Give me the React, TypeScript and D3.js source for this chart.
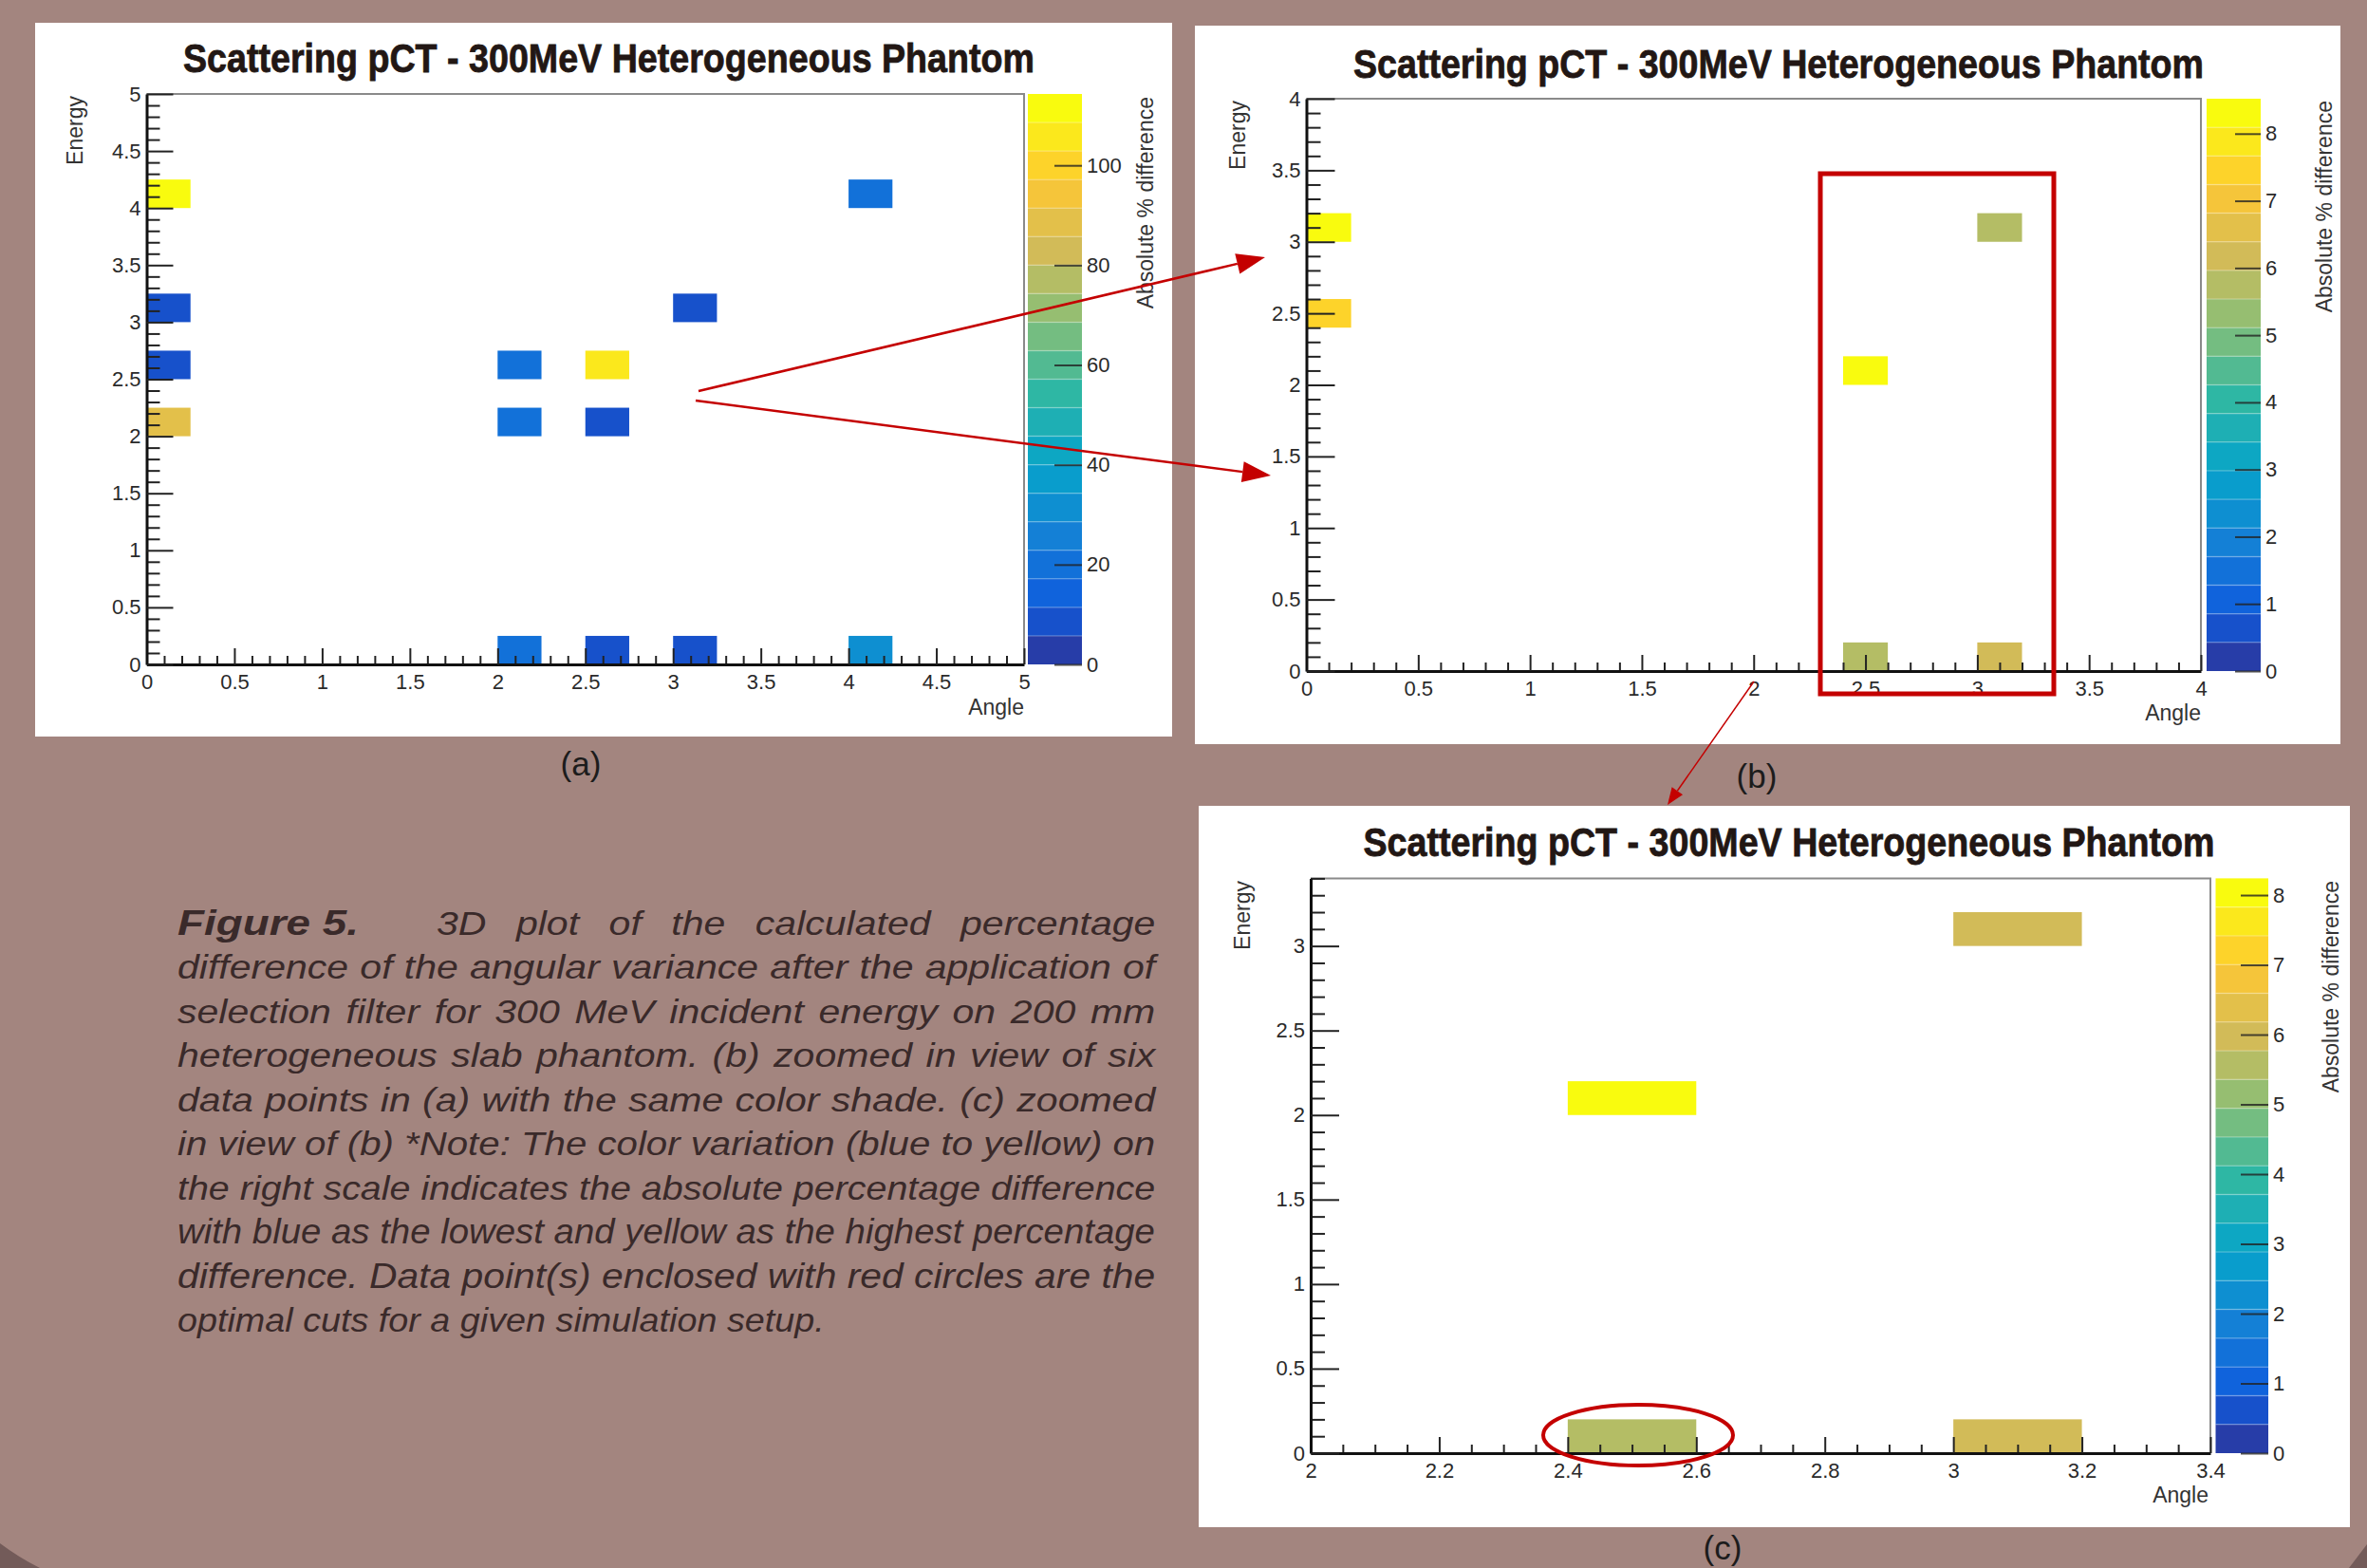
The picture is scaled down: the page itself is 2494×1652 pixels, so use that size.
import { useEffect, useRef } from 'react';
import * as d3 from 'd3';

// --- chart text ---
const titleText = 'Scattering pCT - 300MeV Heterogeneous Phantom';
const xTitle = 'Angle';
const yTitle = 'Energy';
const zTitle = 'Absolute % difference';

// --- panel (a): full range ---
const angleA = [0, 0, 0, 0, 2.0, 2.5, 2.0, 2.5, 3.0, 4.0, 2.0, 2.5, 3.0, 4.0];
const energyA = [4.0, 3.0, 2.5, 2.0, 2.5, 2.5, 2.0, 2.0, 3.0, 4.0, 0, 0, 0, 0];
const diffA = [114.3, 8, 8, 88, 20, 106, 20, 8, 8, 20, 20, 8, 8, 31];

// --- panel (b): zoom on the six lowest points ---
const angleB = [0, 0, 2.4, 3.0, 2.4, 3.0];
const energyB = [3.0, 2.4, 2.0, 3.0, 0, 0];
const diffB = [8.52, 7.5, 8.24, 5.85, 5.6, 6.05];

// --- panel (c): zoom of (b) ---
const angleC = [2.4, 3.0, 2.4, 3.0];
const energyC = [2.0, 3.0, 0, 0];
const diffC = [8.24, 5.85, 5.6, 6.05];

const captionHead = 'Figure 5.';
const captionLines = [
  '3D plot of the calculated percentage',
  'difference of the angular variance after the application of',
  'selection filter for 300 MeV incident energy on 200 mm',
  'heterogeneous slab phantom. (b) zoomed in view of six',
  'data points in (a) with the same color shade. (c) zoomed',
  'in view of (b) *Note: The color variation (blue to yellow) on',
  'the right scale indicates the absolute percentage difference',
  'with blue as the lowest and yellow as the highest percentage',
  'difference. Data point(s) enclosed with red circles are the',
  'optimal cuts for a given simulation setup.',
];

// ROOT kBird palette
const birdStops = [0.0, 0.125, 0.25, 0.375, 0.5, 0.625, 0.75, 0.875, 1.0];
const birdRed = [0.2082, 0.0592, 0.078, 0.0232, 0.1802, 0.5301, 0.8186, 0.9956, 0.9764];
const birdGreen = [0.1664, 0.3599, 0.5041, 0.6419, 0.7178, 0.7492, 0.7328, 0.7862, 0.9832];
const birdBlue = [0.5293, 0.8684, 0.8385, 0.7914, 0.6425, 0.4662, 0.3499, 0.1968, 0.0539];

const bird = d3.scaleLinear<string>()
  .domain(birdStops)
  .range(birdStops.map((_, i) => d3.rgb(birdRed[i] * 255, birdGreen[i] * 255, birdBlue[i] * 255).formatHex()))
  .interpolate(d3.interpolateRgb);

const nBands = 20;
const bandColor = (i: number) => bird(Math.floor((i + 0.99) * 255 / nBands) / 254);

const BG = '#a3857f';
const RED = '#c40000';
const FONT = "'Liberation Sans', Arial, sans-serif";
const NARROW = "'Liberation Sans Narrow', 'Liberation Sans', sans-serif";

const panels = [
  {
    angle: angleA, energy: energyA, diff: diffA, bin: 0.25,
    box: [37, 24, 1235, 776], frame: [154.5, 99, 1079, 700], bar: [1083, 1140],
    xDomain: [0, 5], yDomain: [0, 5], xMajor: 0.5, xMinor: 0.1, yMajor: 0.5, yMinor: 0.1,
    yTick: 28, barTick: 29, zTicks: 6,
    title: [641.5, 76, 897], eLab: [87, 101], aLab: [1079, 753], zLab: [1215, 102],
    label: ['(a)', 612, 817],
  },
  {
    angle: angleB, energy: energyB, diff: diffB, bin: 0.2,
    box: [1259, 27, 2466, 784], frame: [1376.5, 104, 2319, 707], bar: [2325, 2382],
    xDomain: [0, 4], yDomain: [0, 4], xMajor: 0.5, xMinor: 0.1, yMajor: 0.5, yMinor: 0.1,
    yTick: 30, barTick: 27, zTicks: 8,
    title: [1874, 82, 896], eLab: [1312, 106], aLab: [2319, 759], zLab: [2457, 106],
    label: ['(b)', 1851, 830],
  },
  {
    angle: angleC, energy: energyC, diff: diffC, bin: 0.2,
    box: [1263, 849, 2476, 1609], frame: [1381, 925.4, 2329, 1531], bar: [2334.5, 2390],
    xDomain: [2, 3.4], yDomain: [0, 3.4], xMajor: 0.2, xMinor: 0.05, yMajor: 0.5, yMinor: 0.1,
    yTick: 30, barTick: 29, zTicks: 8,
    title: [1885, 902, 897], eLab: [1317, 928], aLab: [2327, 1583], zLab: [2464, 928],
    label: ['(c)', 1815, 1643],
  },
];

const steps = (lo: number, hi: number, step: number) =>
  d3.range(Math.round(lo / step), Math.floor(hi / step + 1e-6) + 1).map(k => +(k * step).toFixed(4));

export default function App() {
  const ref = useRef<SVGSVGElement>(null);

  useEffect(() => {
    document.body.style.margin = '0';
    const svg = d3.select(ref.current);
    svg.selectAll('*').remove();

    svg.append('rect').attr('width', 2494).attr('height', 1652).attr('fill', BG);
    svg.append('path').attr('d', 'M0,1626 Q20,1641 42,1652 L0,1652 Z').attr('fill', '#735b59');
    svg.append('path').attr('d', 'M2475,1652 L2494,1627 L2494,1652 Z').attr('fill', '#735b59');

    panels.forEach(p => {
      const [bx0, by0, bx1, by1] = p.box;
      const [fx0, fy0, fx1, fy1] = p.frame;
      const g = svg.append('g');

      g.append('rect').attr('x', bx0).attr('y', by0).attr('width', bx1 - bx0).attr('height', by1 - by0).attr('fill', '#fff');

      const x = d3.scaleLinear().domain(p.xDomain).range([fx0, fx1]);
      const y = d3.scaleLinear().domain(p.yDomain).range([fy1, fy0]);
      const zMax = d3.max(p.diff) as number;
      const z = d3.scaleLinear().domain([0, zMax]).range([fy1, fy0]);
      const band = (v: number) => Math.min(nBands - 1, Math.floor(v / zMax * nBands));

      // bins
      g.selectAll('rect.bin')
        .data(p.diff.map((v, i) => ({ v, a: p.angle[i], e: p.energy[i] })))
        .join('rect')
        .attr('class', 'bin')
        .attr('x', d => x(d.a))
        .attr('y', d => y(d.e + p.bin))
        .attr('width', d => x(d.a + p.bin) - x(d.a))
        .attr('height', d => y(d.e) - y(d.e + p.bin))
        .attr('fill', d => bandColor(band(d.v)));

      // frame top / right
      g.append('path')
        .attr('d', `M${fx0},${fy0} L${fx1},${fy0} L${fx1},${fy1}`)
        .attr('fill', 'none').attr('stroke', '#8a8a8a').attr('stroke-width', 2);

      // x axis
      const xMaj = steps(p.xDomain[0], p.xDomain[1], p.xMajor);
      const xMin = steps(p.xDomain[0], p.xDomain[1], p.xMinor).filter(v => !xMaj.some(m => Math.abs(m - v) < 1e-6));
      g.append('g').attr('transform', `translate(0,${fy1})`)
        .call(d3.axisBottom(x).tickValues(xMin).tickSize(-9).tickFormat(() => '').tickSizeOuter(0))
        .call(a => a.select('.domain').remove());
      g.append('g').attr('transform', `translate(0,${fy1})`)
        .call(d3.axisBottom(x).tickValues(xMaj).tickSize(-17).tickPadding(10).tickSizeOuter(0).tickFormat(d3.format('~g')))
        .call(a => a.select('.domain').attr('stroke-width', 3).attr('stroke', '#111'));

      // y axis
      const yMaj = steps(p.yDomain[0], p.yDomain[1], p.yMajor);
      const yMin = steps(p.yDomain[0], p.yDomain[1], p.yMinor).filter(v => !yMaj.some(m => Math.abs(m - v) < 1e-6));
      g.append('g').attr('transform', `translate(${fx0},0)`)
        .call(d3.axisLeft(y).tickValues(yMin).tickSize(-p.yTick / 2).tickFormat(() => '').tickSizeOuter(0))
        .call(a => a.select('.domain').remove());
      g.append('g').attr('transform', `translate(${fx0},0)`)
        .call(d3.axisLeft(y).tickValues(yMaj).tickSize(-p.yTick).tickPadding(6).tickSizeOuter(0).tickFormat(d3.format('~g')))
        .call(a => a.select('.domain').attr('stroke-width', 3).attr('stroke', '#111'));

      g.selectAll('.tick line').attr('stroke', '#222').attr('stroke-width', 2);
      g.selectAll('.tick text').attr('font-size', 22).attr('font-family', FONT).attr('fill', '#2a2a2a');

      // colour bar
      const [cx0, cx1] = p.bar;
      g.selectAll('rect.band')
        .data(d3.range(nBands))
        .join('rect')
        .attr('class', 'band')
        .attr('x', cx0)
        .attr('width', cx1 - cx0)
        .attr('y', i => z((i + 1) * zMax / nBands))
        .attr('height', i => z(i * zMax / nBands) - z((i + 1) * zMax / nBands))
        .attr('fill', i => bandColor(i));
      g.selectAll('line.sep')
        .data(d3.range(1, nBands))
        .join('line')
        .attr('class', 'sep')
        .attr('x1', cx0).attr('x2', cx1)
        .attr('y1', i => z(i * zMax / nBands)).attr('y2', i => z(i * zMax / nBands))
        .attr('stroke', '#fff').attr('stroke-opacity', 0.22).attr('stroke-width', 1.5);
      const zAxis = g.append('g').attr('transform', `translate(${cx1},0)`)
        .call(d3.axisRight(z).ticks(p.zTicks).tickSize(-p.barTick).tickPadding(5).tickSizeOuter(0));
      zAxis.select('.domain').remove();
      zAxis.selectAll('.tick line').attr('stroke', '#222').attr('stroke-opacity', 0.8).attr('stroke-width', 2);
      zAxis.selectAll('.tick text').attr('font-size', 22).attr('font-family', FONT).attr('fill', '#2a2a2a');

      // titles
      g.append('text')
        .attr('x', p.title[0]).attr('y', p.title[1])
        .attr('text-anchor', 'middle')
        .attr('font-family', NARROW)
        .attr('font-weight', 'bold').attr('font-size', 42).attr('fill', '#221714')
        .attr('stroke', '#221714').attr('stroke-width', 0.8)
        .attr('textLength', p.title[2]).attr('lengthAdjust', 'spacingAndGlyphs')
        .text(titleText);

      g.append('text')
        .attr('transform', `translate(${p.eLab[0]},${p.eLab[1]}) rotate(-90)`)
        .attr('text-anchor', 'end').attr('font-family', FONT).attr('font-size', 23).attr('fill', '#333')
        .text(yTitle);
      g.append('text')
        .attr('x', p.aLab[0]).attr('y', p.aLab[1])
        .attr('text-anchor', 'end').attr('font-family', FONT).attr('font-size', 23).attr('fill', '#333')
        .text(xTitle);
      g.append('text')
        .attr('transform', `translate(${p.zLab[0]},${p.zLab[1]}) rotate(-90)`)
        .attr('text-anchor', 'end').attr('font-family', FONT).attr('font-size', 23).attr('fill', '#333')
        .text(zTitle);

      svg.append('text')
        .attr('x', p.label[1] as number).attr('y', p.label[2] as number)
        .attr('text-anchor', 'middle').attr('font-family', FONT).attr('font-size', 35).attr('fill', '#1c1c1c')
        .text(p.label[0] as string);
    });

    // annotations: arrows, box, ellipse
    const arrow = (x0: number, y0: number, x1: number, y1: number, w: number, hl: number, hw: number) => {
      const ang = Math.atan2(y1 - y0, x1 - x0);
      const bx = x1 - hl * Math.cos(ang), by = y1 - hl * Math.sin(ang);
      svg.append('line').attr('x1', x0).attr('y1', y0).attr('x2', bx).attr('y2', by)
        .attr('stroke', RED).attr('stroke-width', w);
      const px = -Math.sin(ang) * hw, py = Math.cos(ang) * hw;
      svg.append('path')
        .attr('d', `M${x1},${y1} L${bx + px},${by + py} L${bx - px},${by - py} Z`)
        .attr('fill', RED);
    };
    arrow(736, 412, 1333, 271, 2.5, 30, 11);
    arrow(733, 422, 1339, 501, 2.5, 30, 11);
    arrow(1848, 718, 1757, 848, 1.5, 18, 7);

    svg.append('rect').attr('x', 1918).attr('y', 183).attr('width', 246).attr('height', 548)
      .attr('fill', 'none').attr('stroke', RED).attr('stroke-width', 5);
    svg.append('ellipse').attr('cx', 1726).attr('cy', 1512).attr('rx', 100).attr('ry', 32)
      .attr('fill', 'none').attr('stroke', RED).attr('stroke-width', 4);

    // caption: condensed italic, justified (glyph stretch first, then word spacing)
    const left = 187, right = 1217.5, base = 985, lead = 46.5, kMax = 1.14;
    const cap = svg.append('g')
      .attr('font-family', NARROW)
      .attr('font-style', 'italic').attr('font-size', 36).attr('fill', '#3a2a2a');

    const head = cap.append('text').attr('x', left).attr('y', base).attr('font-weight', 'bold').text(captionHead);
    const hw = (head.node() as SVGTextElement).getComputedTextLength();
    if (hw > 0) head.attr('transform', `translate(${left},0) scale(${191 / hw},1) translate(${-left},0)`);

    captionLines.forEach((line, i) => {
      const x0 = i === 0 ? 460 : left;
      const t = cap.append('text').attr('x', x0).attr('y', base + i * lead).text(line);
      const w = (t.node() as SVGTextElement).getComputedTextLength();
      if (w <= 0) return;
      const last = i === captionLines.length - 1;
      const target = last ? 682 : right - x0;
      const k = last ? target / w : Math.min(target / w, kMax);
      t.attr('transform', `translate(${x0},0) scale(${k},1) translate(${-x0},0)`);
      const gaps = line.split(' ').length - 1;
      if (!last && gaps > 0) {
        const extra = (target - w * k) / k;
        if (extra > 0) t.attr('word-spacing', extra / gaps);
      }
    });
  }, []);

  return (
    <svg ref={ref} width={2494} height={1652} style={{ position: 'absolute', left: 0, top: 0, display: 'block' }} />
  );
}
